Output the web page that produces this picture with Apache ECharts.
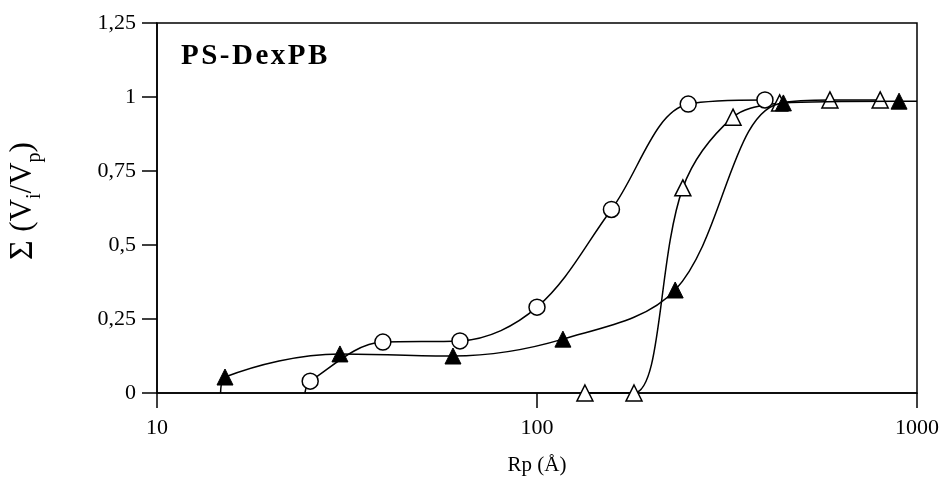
<!DOCTYPE html>
<html><head><meta charset="utf-8">
<script src="https://cdn.jsdelivr.net/npm/echarts@6/dist/echarts.min.js"></script>
<style>html,body{margin:0;padding:0;background:#fff}#c{width:944px;height:485px}</style>
</head><body><div id="c"></div>
<script>
// ---- data ----
const chartTitle = 'PS-DexPB';
const xName = 'Rp (Å)';
const yTicks = [0, 0.25, 0.5, 0.75, 1, 1.25];
const xTicks = [10, 100, 1000];

// open circles (first point = start of curve, no marker)
const circleRp   = [24.5, 25.3, 39.3, 62.7, 100, 157, 250, 398];
const circleVal  = [0,    0.04, 0.172, 0.176, 0.29, 0.62, 0.976, 0.99];
const circleMark = [false, true, true, true, true, true, true, true];

// filled triangles (first / last point = curve ends, no marker)
const filledRp   = [14.7, 15.1, 30.3, 60.1, 117, 231, 445, 897, 1000];
const filledVal  = [0,    0.054, 0.132, 0.125, 0.182, 0.348, 0.98, 0.986, 0.986];
const filledMark = [false, true, true, true, true, true, true, true, false];

// open triangles
const openRp   = [133.7, 180, 242, 328, 435, 590, 800];
const openVal  = [0,     0,   0.693, 0.932, 0.98, 0.99, 0.99];
const openMark = [true, true, true, true, true, true, true];

// ---- chart ----
const FONT = "'Liberation Serif', 'Times New Roman', serif";
function build(xs, ys, marks) {
  return xs.map((x, i) => marks[i] ? {value: [x, ys[i]]} : {value: [x, ys[i]], symbol: 'none'});
}
const titleRich = chartTitle.split('').map(c => '{a|' + c + '}').join('');

const chart = echarts.init(document.getElementById('c'), null, {renderer: 'canvas'});
chart.setOption({
  animation: false,
  backgroundColor: '#fff',
  title: {
    text: titleRich,
    left: 176, top: 37,
    textStyle: {rich: {a: {fontSize: 29, fontWeight: 'bold', fontFamily: FONT, color: '#000', padding: [0, 2.5, 0, 0]}}}
  },
  grid: {
    left: 157, right: 27, top: 23, bottom: 92,
    show: true, borderColor: '#000', borderWidth: 1.5,
    outerBoundsMode: 'none', containLabel: false
  },
  xAxis: {
    type: 'log', logBase: 10, min: xTicks[0], max: xTicks[xTicks.length - 1],
    axisLine: {show: true, onZero: false, lineStyle: {color: '#000', width: 1.5}},
    axisTick: {show: true, inside: false, length: 15, lineStyle: {color: '#000', width: 1.5}},
    minorTick: {show: false},
    splitLine: {show: false},
    axisLabel: {color: '#000', fontSize: 22, fontFamily: FONT, margin: 24,
      formatter: v => String(Math.round(v))},
    name: xName, nameLocation: 'middle', nameGap: 62, nameMoveOverlap: false,
    nameTextStyle: {color: '#000', fontSize: 21, fontFamily: FONT}
  },
  yAxis: {
    type: 'value', min: yTicks[0], max: yTicks[yTicks.length - 1], interval: 0.25,
    axisLine: {show: true, lineStyle: {color: '#000', width: 1.5}},
    axisTick: {show: true, inside: false, length: 15, lineStyle: {color: '#000', width: 1.5}},
    splitLine: {show: false},
    axisLabel: {color: '#000', fontSize: 22, fontFamily: FONT, margin: 21,
      formatter: v => String(v).replace('.', ',')},
    name: '{s|Σ }{m|(V}{b|i}{m|/V}{b|p}{m|)}',
    nameLocation: 'middle', nameGap: 112, nameMoveOverlap: false,
    nameTextStyle: {
      color: '#000', fontWeight: 'normal', padding: [0, 0, 0, 14],
      rich: {
        s: {fontSize: 34, fontWeight: 'normal', fontFamily: FONT, color: '#000', lineHeight: 44, verticalAlign: 'middle'},
        m: {fontSize: 31, fontWeight: 'normal', fontFamily: FONT, color: '#000', lineHeight: 44, verticalAlign: 'middle'},
        b: {fontSize: 20, fontWeight: 'normal', fontFamily: FONT, color: '#000', lineHeight: 20, verticalAlign: 'bottom'}
      }
    }
  },
  series: [
    {
      type: 'line', smooth: 0.35, z: 2,
      data: build(openRp, openVal, openMark),
      symbol: 'triangle', symbolSize: 16,
      lineStyle: {color: '#000', width: 1.5},
      itemStyle: {color: '#fff', borderColor: '#000', borderWidth: 1.5}
    },
    {
      type: 'line', smooth: 0.35, z: 3,
      data: build(circleRp, circleVal, circleMark),
      symbol: 'circle', symbolSize: 16,
      lineStyle: {color: '#000', width: 1.5},
      itemStyle: {color: '#fff', borderColor: '#000', borderWidth: 1.5}
    },
    {
      type: 'line', smooth: 0.35, z: 4,
      data: build(filledRp, filledVal, filledMark),
      symbol: 'triangle', symbolSize: 16,
      lineStyle: {color: '#000', width: 1.5},
      itemStyle: {color: '#000', borderColor: '#000', borderWidth: 1}
    }
  ]
});
</script>
</body></html>
